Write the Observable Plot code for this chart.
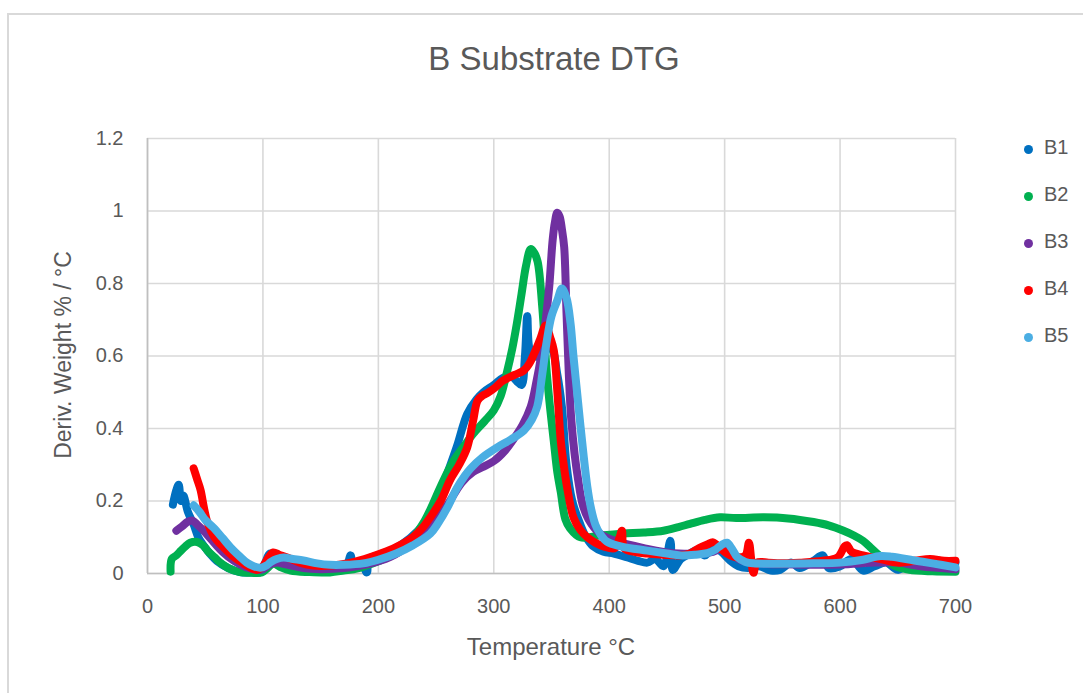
<!DOCTYPE html>
<html>
<head>
<meta charset="utf-8">
<script src="https://cdn.jsdelivr.net/npm/d3@7"></script>
<script src="https://cdn.jsdelivr.net/npm/@observablehq/plot@0.6"></script>
<style>
  html, body { margin: 0; padding: 0; background: #fff; }
  #wrap { position: relative; width: 1083px; height: 693px; overflow: hidden; font-family: "Liberation Sans", Arial, sans-serif; color: #595959; }
  #frame { position: absolute; left: 7px; top: 13px; width: 1100px; height: 700px; border: 2px solid #D9D9D9; box-sizing: border-box; }
  #title { position: absolute; left: 0; width: 1108px; top: 40px; text-align: center; font-size: 33px; }
  #xlabel { position: absolute; left: 147px; width: 808px; top: 633px; text-align: center; font-size: 24px; }
  #ylabel { position: absolute; left: 63px; top: 355px; transform: translate(-50%, -50%) rotate(-90deg); white-space: nowrap; font-size: 23px; }
  #legend { position: absolute; left: 1024px; top: 136px; }
  .item { height: 47px; display: flex; align-items: flex-start; font-size: 20px; }
  .item .dot { width: 9px; height: 9px; border-radius: 50%; margin-top: 9px; margin-right: 11px; }
  #chart { position: absolute; left: 0; top: 0; }
</style>
</head>
<body>
<div id="wrap">
  <div id="frame"></div>
  <div id="chart"></div>
  <div id="title"></div>
  <div id="xlabel"></div>
  <div id="ylabel"></div>
  <div id="legend"></div>
</div>
<script>
const chartTitle = "B Substrate DTG";
const xTitle = "Temperature °C";
const yTitle = "Deriv. Weight % / °C";
const seriesNames = ["B1", "B2", "B3", "B4", "B5"];
const seriesColors = ["#0070C0", "#00B050", "#7030A0", "#FF0000", "#4BAEE3"];
const xTicks = [0, 100, 200, 300, 400, 500, 600, 700];
const yTicks = [0, 0.2, 0.4, 0.6, 0.8, 1, 1.2];

const b1 = [[22,0.19],[25,0.23],[27,0.245],[29,0.2],[31,0.215],[35,0.17],[40,0.135],[44,0.1],[48,0.08],[54,0.055],[60,0.035],[70,0.015],[80,0.004],[90,0.003],[98,0.004],[102,0.03],[106,0.055],[110,0.05],[118,0.03],[130,0.015],[144,0.008],[160,0.012],[172,0.02],[176,0.05],[178,0.02],[185,0.03],[190,0.003],[192,0.04],[205,0.055],[220,0.08],[235,0.12],[245,0.16],[251,0.2],[258,0.26],[268,0.35],[277,0.44],[285,0.48],[291,0.5],[300,0.52],[308,0.54],[315,0.545],[320,0.53],[324,0.52],[327,0.6],[329,0.71],[331,0.62],[335,0.6],[340,0.6],[345,0.62],[350,0.62],[355,0.55],[359,0.46],[363,0.3],[368,0.2],[375,0.135],[380,0.1],[386,0.075],[395,0.06],[404,0.055],[415,0.045],[425,0.035],[433,0.03],[440,0.04],[447,0.02],[453,0.09],[455,0.01],[462,0.04],[470,0.055],[476,0.065],[483,0.05],[490,0.075],[497,0.06],[505,0.035],[512,0.02],[520,0.015],[530,0.02],[540,0.008],[548,0.01],[558,0.03],[565,0.015],[577,0.035],[585,0.05],[590,0.015],[600,0.02],[610,0.04],[620,0.008],[630,0.02],[640,0.03],[650,0.01],[664,0.035],[675,0.025],[685,0.035],[693,0.03],[700,0.03]];

const b2 = [[20,0.005],[21,0.04],[25,0.05],[29,0.063],[33,0.075],[37,0.085],[43,0.087],[48,0.078],[52,0.063],[58,0.045],[63,0.03],[70,0.015],[80,0.004],[90,0.002],[99,0.003],[104,0.015],[109,0.028],[115,0.018],[124,0.008],[140,0.004],[158,0.003],[170,0.008],[182,0.014],[195,0.028],[202,0.036],[215,0.06],[230,0.1],[240,0.145],[247,0.19],[254,0.24],[265,0.31],[275,0.355],[282,0.385],[292,0.42],[300,0.45],[306,0.49],[311,0.55],[316,0.62],[320,0.69],[324,0.77],[328,0.85],[332,0.895],[335,0.885],[338,0.86],[342,0.735],[346,0.55],[349,0.45],[352,0.365],[355,0.28],[358,0.225],[362,0.15],[366,0.125],[375,0.1],[392,0.105],[412,0.11],[430,0.113],[447,0.118],[460,0.128],[470,0.137],[483,0.148],[496,0.155],[510,0.153],[534,0.155],[555,0.152],[577,0.142],[590,0.133],[603,0.118],[612,0.105],[620,0.09],[627,0.07],[632,0.055],[640,0.035],[648,0.02],[660,0.01],[680,0.006],[700,0.005]];

const b3 = [[25,0.118],[30,0.13],[35,0.143],[39,0.146],[43,0.135],[48,0.12],[55,0.095],[65,0.06],[75,0.035],[85,0.018],[95,0.01],[100,0.012],[106,0.025],[112,0.03],[120,0.025],[135,0.015],[150,0.012],[170,0.015],[190,0.025],[210,0.045],[230,0.085],[245,0.125],[260,0.19],[272,0.25],[282,0.28],[290,0.293],[300,0.31],[310,0.34],[317,0.37],[325,0.41],[332,0.46],[337,0.53],[341,0.6],[345,0.7],[348,0.79],[351,0.92],[353,0.97],[355,0.995],[357,0.985],[359,0.95],[361,0.9],[363,0.72],[365,0.55],[367,0.43],[370,0.33],[373,0.26],[377,0.19],[382,0.15],[392,0.11],[405,0.09],[430,0.07],[460,0.055],[490,0.06],[502,0.075],[512,0.04],[530,0.028],[560,0.025],[600,0.025],[630,0.03],[650,0.03],[670,0.02],[700,0.012]];

const b4 = [[40,0.29],[43,0.26],[46,0.23],[49,0.18],[52,0.14],[58,0.1],[66,0.072],[75,0.045],[83,0.028],[90,0.015],[95,0.01],[100,0.02],[105,0.045],[109,0.058],[114,0.052],[121,0.044],[132,0.03],[144,0.022],[160,0.022],[173,0.028],[188,0.04],[202,0.055],[215,0.072],[230,0.1],[238,0.125],[245,0.155],[254,0.2],[262,0.257],[270,0.3],[277,0.348],[282,0.42],[286,0.477],[290,0.49],[294,0.497],[300,0.51],[308,0.532],[318,0.548],[326,0.56],[331,0.58],[335,0.607],[340,0.645],[345,0.684],[349,0.65],[352,0.615],[355,0.505],[358,0.367],[361,0.29],[364,0.229],[369,0.155],[375,0.12],[381,0.1],[388,0.085],[395,0.075],[405,0.07],[409,0.1],[411,0.118],[413,0.07],[422,0.06],[433,0.055],[447,0.052],[462,0.05],[470,0.055],[478,0.07],[485,0.08],[490,0.086],[496,0.07],[502,0.055],[510,0.045],[518,0.05],[521,0.085],[523,0.04],[525,0.002],[528,0.03],[538,0.03],[548,0.028],[565,0.03],[585,0.035],[598,0.045],[604,0.075],[606,0.078],[610,0.06],[620,0.05],[635,0.04],[650,0.03],[665,0.035],[678,0.04],[690,0.035],[700,0.035]];

const b5 = [[40,0.188],[45,0.17],[50,0.148],[57,0.127],[65,0.098],[72,0.072],[80,0.047],[86,0.03],[92,0.02],[98,0.016],[103,0.022],[107,0.032],[112,0.04],[118,0.044],[126,0.04],[135,0.036],[147,0.028],[158,0.024],[170,0.024],[187,0.028],[200,0.038],[216,0.056],[230,0.078],[245,0.11],[252,0.14],[260,0.183],[268,0.235],[275,0.27],[280,0.29],[290,0.32],[303,0.348],[315,0.37],[326,0.394],[333,0.425],[337.6,0.46],[342,0.55],[346,0.643],[350,0.71],[355,0.753],[359,0.786],[363,0.76],[366.5,0.69],[369,0.6],[372,0.505],[375,0.41],[378,0.32],[381,0.24],[384,0.183],[388,0.135],[392,0.11],[398,0.088],[410,0.075],[433,0.063],[450,0.055],[462,0.05],[475,0.052],[485,0.056],[492,0.066],[497,0.078],[502,0.085],[506,0.07],[511,0.045],[518,0.032],[525,0.028],[550,0.027],[577,0.028],[600,0.03],[620,0.038],[635,0.048],[645,0.046],[664,0.036],[680,0.028],[700,0.017]];

const seriesData = [b1, b2, b3, b4, b5];
const rows = seriesData.flatMap((s, i) => s.map(([t, v]) => ({series: seriesNames[i], t, v})));

const fmtY = d => String(+d.toFixed(1));

const chart = Plot.plot({
  width: 1083,
  height: 693,
  marginLeft: 147,
  marginRight: 128,
  marginTop: 138,
  marginBottom: 120,
  style: {background: "transparent", fontFamily: "'Liberation Sans', Arial, sans-serif", color: "#595959"},
  x: {domain: [0, 700]},
  y: {domain: [0, 1.2]},
  color: {domain: seriesNames, range: seriesColors},
  marks: [
    Plot.gridX(xTicks, {stroke: "#D9D9D9", strokeOpacity: 1, strokeWidth: 1.6}),
    Plot.gridY(yTicks, {stroke: "#D9D9D9", strokeOpacity: 1, strokeWidth: 1.6}),
    Plot.ruleX([0], {stroke: "#BFBFBF", strokeWidth: 1.6}),
    Plot.ruleY([0], {stroke: "#BFBFBF", strokeWidth: 1.6}),
    Plot.axisX(xTicks, {tickSize: 0, tickPadding: 25, label: null, fontSize: 20, fill: "#595959"}),
    Plot.axisY(yTicks, {tickSize: 0, tickPadding: 24, label: null, fontSize: 20, fill: "#595959", tickFormat: fmtY}),
    Plot.line(rows, {x: "t", y: "v", z: "series", stroke: "series", strokeWidth: 8, strokeLinecap: "round", strokeLinejoin: "round", curve: "catmull-rom"})
  ]
});
document.getElementById("chart").appendChild(chart);
document.getElementById("title").textContent = chartTitle;
document.getElementById("xlabel").textContent = xTitle;
document.getElementById("ylabel").textContent = yTitle;
const legend = document.getElementById("legend");
seriesNames.forEach((n, i) => {
  const item = document.createElement("div");
  item.className = "item";
  const dot = document.createElement("span");
  dot.className = "dot";
  dot.style.background = seriesColors[i];
  const lab = document.createElement("span");
  lab.textContent = n;
  item.appendChild(dot);
  item.appendChild(lab);
  legend.appendChild(item);
});
</script>
</body>
</html>
